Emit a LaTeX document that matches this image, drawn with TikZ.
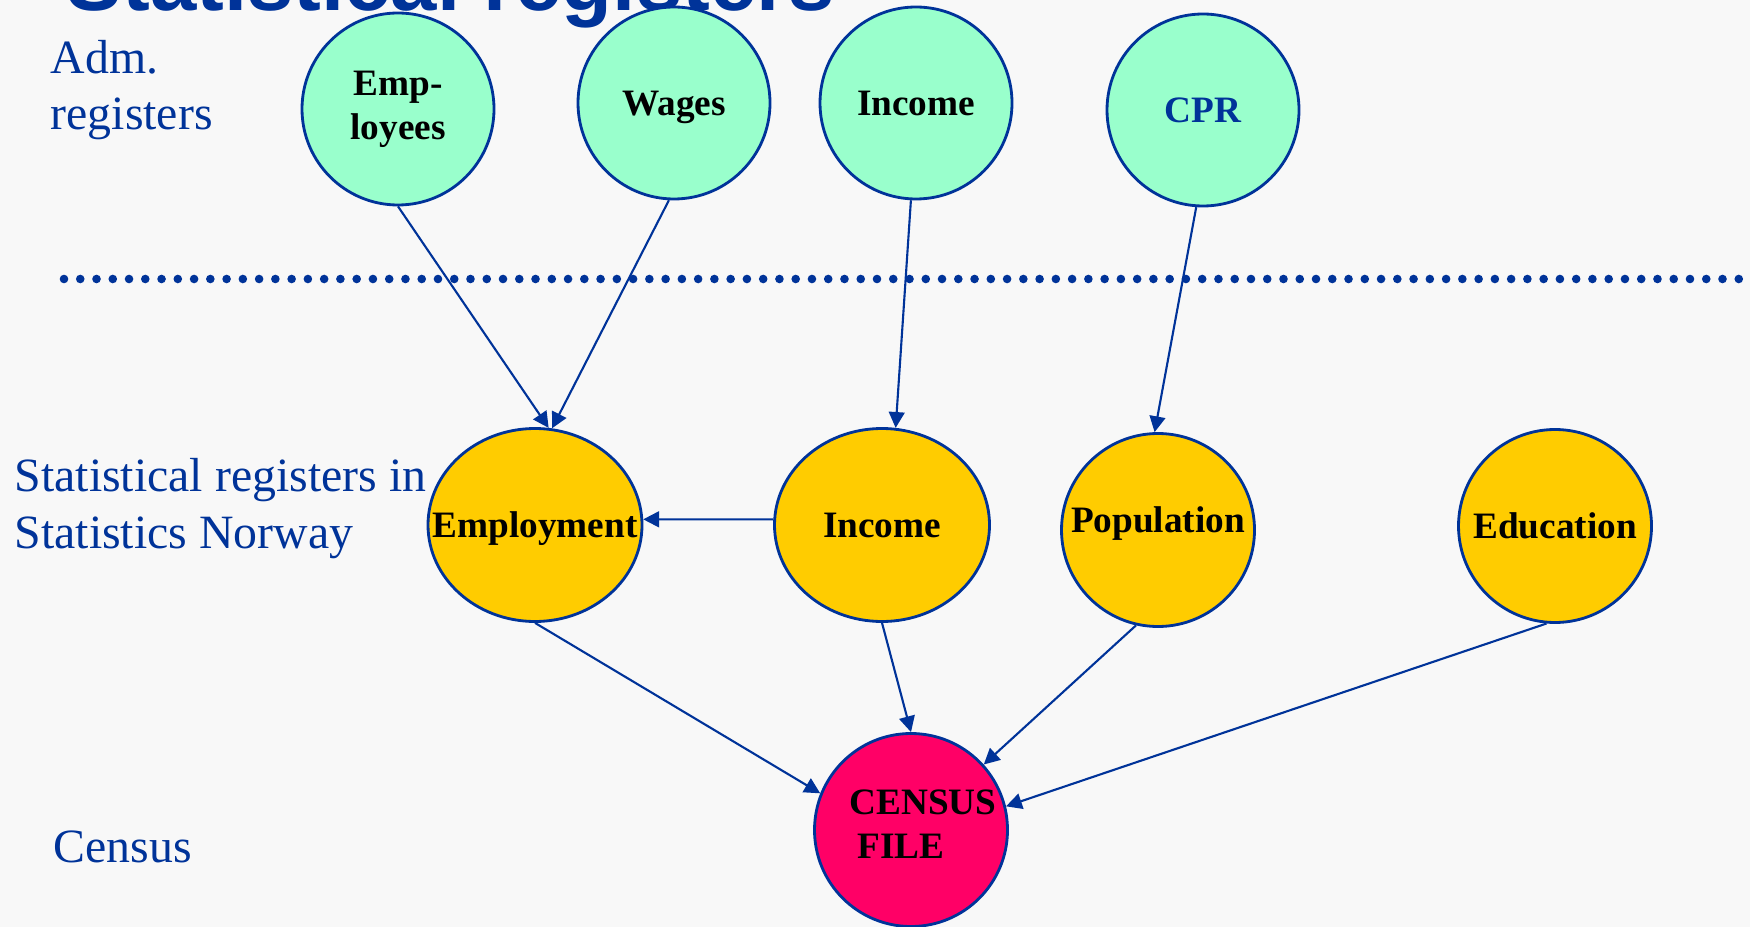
\documentclass[tikz,border=0pt]{standalone}
\usepackage{fontspec}
\setmainfont{Liberation Serif}
\newfontfamily\titlefont{Liberation Sans}
\usepackage{xcolor}
\usetikzlibrary{shapes.geometric,arrows.meta}

\definecolor{ssbblue}{RGB}{0,51,153}
\definecolor{admgreen}{RGB}{153,255,204}
\definecolor{statyellow}{RGB}{255,204,0}
\definecolor{censuspink}{RGB}{255,0,102}
\definecolor{bggray}{RGB}{248,248,248}

\tikzset{
  admreg/.style={circle, draw=ssbblue, line width=0.8pt, fill=admgreen,
    minimum size=1.92cm, inner sep=0pt, align=center,
    text height=0.25cm, text depth=0pt,
    font=\bfseries\fontsize{10.6}{12.5}\selectfont},
  statreg/.style={admreg, fill=statyellow, minimum size=1.93cm},
  flow/.style={ssbblue, line width=0.6pt, -{Triangle[length=4.5pt,width=4.5pt]}},
  sidelabel/.style={text=ssbblue, inner sep=0pt, anchor=base west, align=left,
    font=\fontsize{13.6}{16.2}\selectfont}
}

\begin{document}
\begin{tikzpicture}[x=1cm,y=-1cm]
  % Bakgrunn
  \fill[bggray] (0,0) rectangle (17.5,9.27);
  \useasboundingbox (0,0) rectangle (17.5,9.27);
  \clip (0,0) rectangle (17.5,9.27);

  % Tittel (kuttet)
  \node[anchor=base west, inner sep=0pt, text=ssbblue,
    font=\titlefont\bfseries\fontsize{23.7}{28}\selectfont] (title) at (0.66,0.11) {Statistical registers};

  % Tekst til venstre (base = siste linje)
  \node[sidelabel] (admlbl) at (0.50,1.30) {Adm.\\registers};
  \node[sidelabel] (statlbl) at (0.14,5.48) {Statistical registers in\\Statistics Norway};
  \node[sidelabel] (censuslbl) at (0.53,8.62) {Census};

  % Prikket skillelinje
  \foreach \i in {0,...,103}
    \fill[ssbblue] ({0.64+0.1626*\i},2.79) circle (0.043);

  % Administrative registre
  \node[admreg, text height=, text depth=] (employees) at (3.98,1.09) {Emp-\\loyees};
  \node[admreg] (wages) at (6.74,1.03) {Wages};
  \node[admreg] (incomeadm) at (9.16,1.03) {Income};
  \node[admreg, text=ssbblue] (cpr) at (12.03,1.10) {CPR};

  % Statistiske registre
  \node[statreg, ellipse, minimum width=2.14cm] (employment) at (5.35,5.25) {\makebox[0pt]{Employment}};
  \node[statreg, ellipse, minimum width=2.15cm] (incomesr) at (8.82,5.25) {Income};
  \node[statreg, text depth=0.2cm] (population) at (11.58,5.30) {Population};
  \node[statreg] (education) at (15.55,5.26) {Education};

  % Folketellingsfil
  \node[statreg, fill=censuspink] (census) at (9.11,8.30) {};
  \node[inner sep=0pt, align=left, font=\bfseries\fontsize{10.6}{12.5}\selectfont] (censustxt) at (9.23,8.24) {CENSUS\\\hspace*{0.08cm}FILE};

  % Piler
  \draw[flow] (employees.-90) -- (employment.82);
  \draw[flow] (wages.-93) -- (employment.80);
  \draw[flow] (incomeadm.-93) -- (incomesr.82);
  \draw[flow] (cpr.-94) -- (population.92);
  \draw[flow] (incomesr.177) -- (employment.3);
  \draw[flow] (employment.-90) -- (census.158);
  \draw[flow] (incomesr.-90) -- (census.90);
  \draw[flow] (population.-103) -- (census.42);
  \draw[flow] (education.-95) -- (census.14);
\end{tikzpicture}
\end{document}
